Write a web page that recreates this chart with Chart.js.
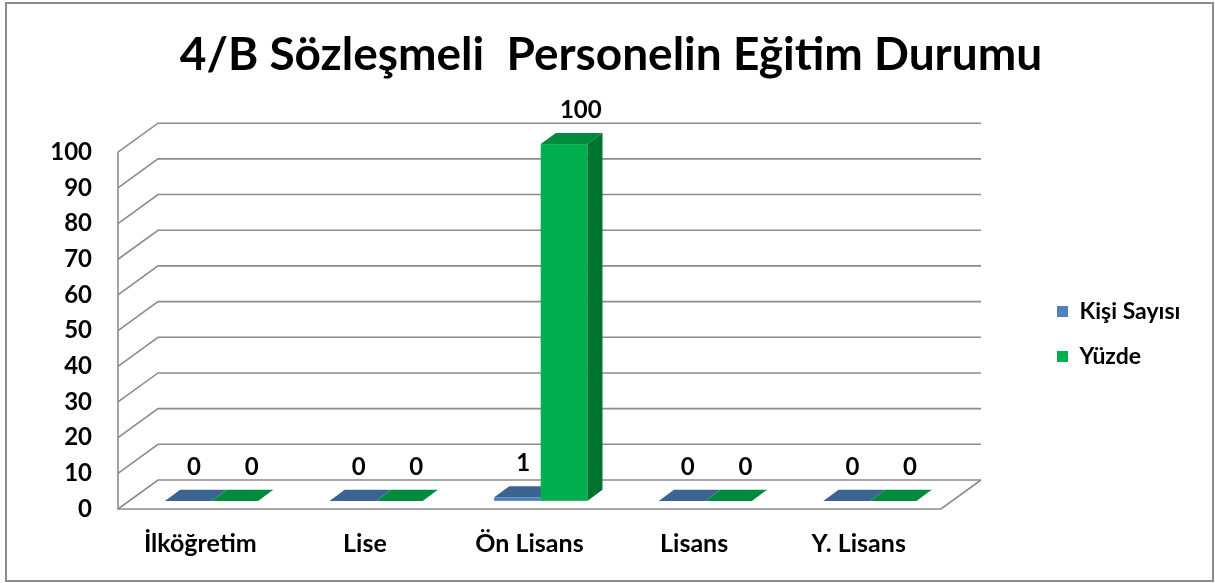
<!DOCTYPE html>
<html>
<head>
<meta charset="utf-8">
<script src="https://cdn.jsdelivr.net/npm/chart.js@4.4.0/dist/chart.umd.min.js"></script>
<style>
html, body { margin: 0; padding: 0; background: #fff; }
</style>
</head>
<body>
<canvas id="myChart" width="1215" height="583"></canvas>
<script>
const labels = ['İlköğretim', 'Lise', 'Ön Lisans', 'Lisans', 'Y. Lisans']
const kisiSayisi = [0, 0, 1, 0, 0]
const yuzde = [0, 0, 100, 0, 0]
const yTicks = [0, 10, 20, 30, 40, 50, 60, 70, 80, 90, 100]

// depth of the fake 3d box, and where the bars sit inside it
const DX = 40, DY = -29
const BAR_F0 = 0.28, BAR_F1 = 0.66
const PLOT_RIGHT = 941 // front right corner of the floor

Chart.defaults.font.family = 'Lato'
Chart.defaults.font.weight = 'bold'
Chart.defaults.color = '#000'

const poly = (ctx, pts, color) => {
    ctx.fillStyle = color
    ctx.beginPath()
    ctx.moveTo(pts[0][0], pts[0][1])
    pts.slice(1).forEach(p => ctx.lineTo(p[0], p[1]))
    ctx.closePath()
    ctx.fill()
}

const fake3d = {
    id: 'fake3d',
    afterLayout(chart) {
        // park the legend where excel puts it
        const lg = chart.legend
        const pad = lg.options.labels.padding
        const w = lg.width, h = lg.height
        lg.left = 1057 - pad
        lg.right = lg.left + w
        lg.top = 278
        lg.bottom = lg.top + h
    },
    beforeDraw(chart) {
        const ctx = chart.ctx
        ctx.save()
        ctx.fillStyle = '#fff'
        ctx.fillRect(0, 0, chart.width, chart.height)
        ctx.strokeStyle = '#8c8c8c'
        ctx.lineWidth = 2
        ctx.strokeRect(6, 3, 1207, 578)
        ctx.restore()
    },
    beforeDatasetsDraw(chart) {
        const ctx = chart.ctx
        const {left, right} = chart.chartArea
        const y = chart.scales.y
        const y0 = y.getPixelForValue(0)
        ctx.save()
        ctx.strokeStyle = '#8c8c8c'
        ctx.lineWidth = 1.6
        yTicks.forEach(v => {
            const py = y.getPixelForValue(v)
            ctx.beginPath()
            ctx.moveTo(left, py)
            ctx.lineTo(left + DX, py + DY)
            ctx.lineTo(right + DX, py + DY)
            ctx.stroke()
        })
        ctx.beginPath()
        ctx.moveTo(left, y.getPixelForValue(100))
        ctx.lineTo(left, y0)
        ctx.lineTo(right, y0)
        ctx.lineTo(right + DX, y0 + DY)
        ctx.stroke()
        ctx.restore()
    },
    beforeDatasetDraw() {
        return false
    },
    afterDatasetsDraw(chart) {
        const ctx = chart.ctx
        const ddx = (BAR_F1 - BAR_F0) * DX, ddy = (BAR_F1 - BAR_F0) * DY
        ctx.save()
        labels.forEach((lab, i) => {
            chart.data.datasets.forEach((ds, d) => {
                const el = chart.getDatasetMeta(d).data[i]
                const {x, y, base, width} = el.getProps(['x', 'y', 'base', 'width'], true)
                const x0 = x - width / 2 + BAR_F0 * DX
                const x1 = x + width / 2 + BAR_F0 * DX
                const yt = y + BAR_F0 * DY
                const yb = base + BAR_F0 * DY
                poly(ctx, [[x1, yb], [x1 + ddx, yb + ddy], [x1 + ddx, yt + ddy], [x1, yt]], ds.sideColor)
                ctx.fillStyle = ds.backgroundColor
                ctx.fillRect(x0, yt, x1 - x0, yb - yt)
                poly(ctx, [[x0, yt], [x1, yt], [x1 + ddx, yt + ddy], [x0 + ddx, yt + ddy]], ds.topColor)
            })
        })
        // value labels
        ctx.fillStyle = '#000'
        ctx.font = 'bold 24px Lato'
        ctx.textAlign = 'center'
        ctx.textBaseline = 'middle'
        chart.data.datasets.forEach((ds, d) => {
            chart.getDatasetMeta(d).data.forEach((el, i) => {
                const {x, y} = el.getProps(['x', 'y'], true)
                ctx.fillText(String(ds.data[i]), x + 17 + 11 * d, y - 42)
            })
        })
        ctx.restore()
    }
}

const data = {
    labels: labels,
    datasets: [{
        label: 'Kişi Sayısı',
        data: kisiSayisi,
        backgroundColor: '#4F81BD',
        sideColor: '#385D8A',
        topColor: '#3C6493',
        borderWidth: 0
    }, {
        label: 'Yüzde',
        data: yuzde,
        backgroundColor: '#00B050',
        sideColor: '#00732F',
        topColor: '#008A3E',
        borderWidth: 0
    }]
}

const config = {
    type: 'bar',
    data,
    options: {
        responsive: false,
        animation: false,
        devicePixelRatio: 1,
        layout: {
            padding: {left: 40, right: 33, top: 0, bottom: 0}
        },
        datasets: {
            bar: {
                categoryPercentage: 0.566,
                barPercentage: 1
            }
        },
        scales: {
            x: {
                grid: {display: false, drawTicks: false},
                border: {display: false},
                ticks: {font: {size: 25, weight: 'bold'}, padding: 20, maxRotation: 0},
                afterFit: s => { s.height = 74 }
            },
            y: {
                min: 0,
                max: 100,
                grid: {display: false, drawTicks: false},
                border: {display: false},
                ticks: {font: {size: 24, weight: 'bold'}, padding: 26},
                afterBuildTicks: s => { s.ticks = yTicks.map(v => ({value: v})) },
                afterFit: s => { s.width = 78 }
            },
            // empty spacer between the floor and the legend
            gap: {
                position: 'right',
                grid: {display: false, drawTicks: false},
                border: {display: false},
                ticks: {display: false},
                afterFit: s => {
                    const lw = s.chart.legend ? s.chart.legend.width : 150
                    s.width = Math.max(0, s.chart.width - 33 - lw - PLOT_RIGHT)
                }
            }
        },
        plugins: {
            title: {
                display: true,
                text: '4/B Sözleşmeli  Personelin Eğitim Durumu',
                font: {size: 46, weight: 'bold'},
                color: '#000',
                padding: {top: 28, bottom: 69}
            },
            legend: {
                position: 'right',
                align: 'start',
                labels: {
                    boxWidth: 11,
                    boxHeight: 11,
                    padding: 22,
                    font: {size: 23, weight: 'bold'}
                }
            },
            tooltip: {enabled: false}
        }
    },
    plugins: [fake3d]
}

const myChart = new Chart(document.getElementById('myChart'), config)
</script>
</body>
</html>
